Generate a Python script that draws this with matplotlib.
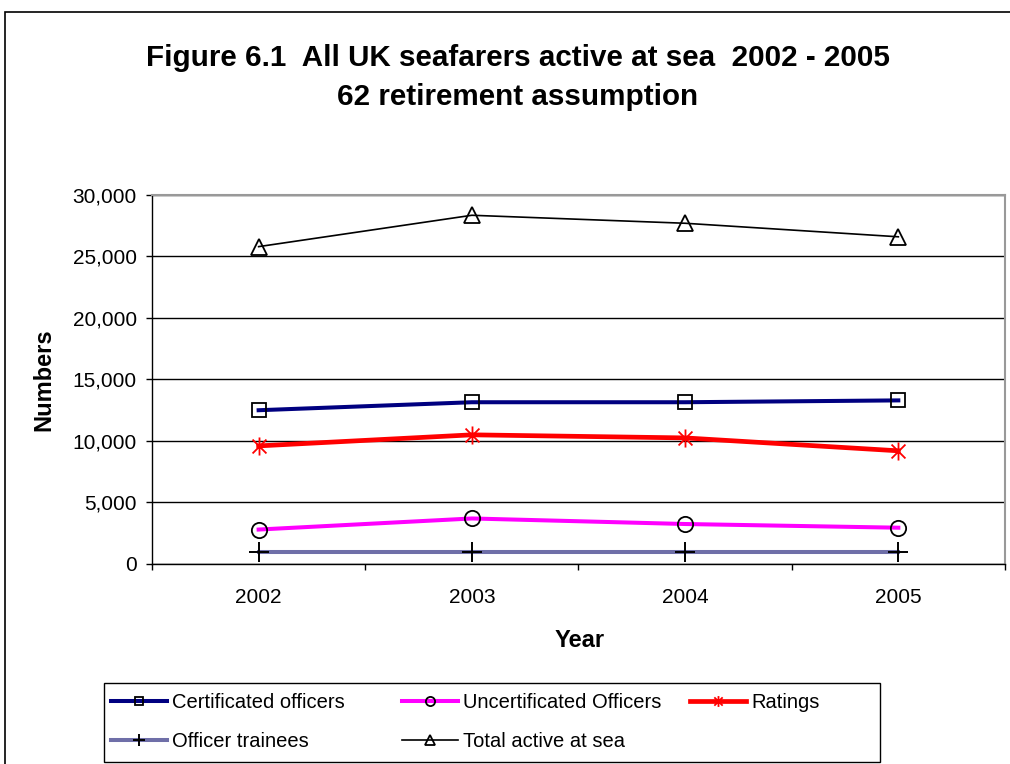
import numpy as np
import matplotlib.pyplot as plt
from matplotlib.path import Path
from matplotlib.patches import Rectangle
from matplotlib.ticker import FuncFormatter

plt.rcParams["font.family"] = ["Liberation Sans", "DejaVu Sans"]

years = ["2002", "2003", "2004", "2005"]
certificated = [12500, 13150, 13150, 13300]
uncertificated = [2800, 3700, 3250, 2950]
ratings = [9600, 10500, 10250, 9200]
trainees = [1000, 1000, 1000, 1000]
total = [25800, 28350, 27700, 26600]

# excel style asterisk marker (x with a vertical bar)
star = Path(
    [(-1, -1), (1, 1), (-1, 1), (1, -1), (0, -1.3), (0, 1.3)],
    [Path.MOVETO, Path.LINETO, Path.MOVETO, Path.LINETO, Path.MOVETO, Path.LINETO],
)

fig = plt.figure(figsize=(10.1, 7.64), dpi=100)
ax = fig.add_axes([0.1505, 0.2618, 0.8445, 0.483])

x = np.arange(len(years))

l1, = ax.plot(x, certificated, color="#000080", linewidth=2.9, marker="s",
              markersize=10.5, markerfacecolor="none", markeredgecolor="black",
              markeredgewidth=1.3, label="Certificated officers", zorder=4)
l2, = ax.plot(x, uncertificated, color="#ff00ff", linewidth=2.9, marker="o",
              markersize=11, markerfacecolor="none", markeredgecolor="black",
              markeredgewidth=1.3, label="Uncertificated Officers", zorder=4)
l3, = ax.plot(x, ratings, color="#ff0000", linewidth=3.4, marker=star,
              markersize=13, markerfacecolor="none", markeredgecolor="#ff0000",
              markeredgewidth=1.3, label="Ratings", zorder=4)
l4, = ax.plot(x, trainees, color="#6f6fa8", linewidth=2.9, marker="+",
              markersize=14, markeredgecolor="black", markeredgewidth=1.4,
              label="Officer trainees", zorder=4)
l5, = ax.plot(x, total, color="black", linewidth=1.2, marker="^",
              markersize=12, markerfacecolor="none", markeredgecolor="black",
              markeredgewidth=1.3, label="Total active at sea", zorder=4)

ax.set_xlim(-0.5, len(years) - 0.5)
ax.set_ylim(0, 30000)
ax.set_yticks(np.arange(0, 30001, 5000))
ax.yaxis.set_major_formatter(FuncFormatter(lambda v, p: f"{int(v):,}"))
ax.set_xticks(x)
ax.set_xticklabels(years)
ax.set_xticks(np.arange(-0.5, len(years)), minor=True)
ax.tick_params(axis="x", which="major", length=0, pad=17, labelsize=15)
ax.tick_params(axis="x", which="minor", length=4, width=1, direction="out")
ax.tick_params(axis="y", length=4, width=1, direction="out", pad=7, labelsize=15)

ax.grid(True, axis="y", color="black", linewidth=1)
for s in ["top", "right"]:
    ax.spines[s].set_color("#999999")
    ax.spines[s].set_linewidth(1.5)
for s in ["left", "bottom"]:
    ax.spines[s].set_color("black")
    ax.spines[s].set_linewidth(1)

fig.text(0.574, 0.1531, "Year", ha="center", va="baseline",
         fontsize=17, fontweight="bold")
fig.text(0.0436, 0.5026, "Numbers", rotation=90, ha="center", va="center",
         fontsize=17, fontweight="bold")

fig.text(0.5124, 0.9136, "Figure 6.1  All UK seafarers active at sea  2002 - 2005",
         ha="center", va="baseline", fontsize=21.3, fontweight="bold")
fig.text(0.5124, 0.8626, "62 retirement assumption",
         ha="center", va="baseline", fontsize=21.3, fontweight="bold")

# legend: one column at a time, inside a plain box
columns = [[l1, l4], [l2, l5], [l3]]
col_x = [0.1099, 0.398, 0.683]
for handles, cx in zip(columns, col_x):
    fig.legend(handles, [h.get_label() for h in handles], loc="upper left",
               bbox_to_anchor=(cx, 0.0929), frameon=False, fontsize=14.5,
               handlelength=2.8, handletextpad=0.25, borderpad=0,
               borderaxespad=0, labelspacing=0.98, markerscale=0.6)
fig.patches.append(Rectangle((0.103, 0.0026), 0.768, 0.1034, transform=fig.transFigure,
                             fill=False, edgecolor="black", linewidth=1))

fig.patches.append(Rectangle((0.005, -0.1), 2, 1.084, transform=fig.transFigure,
                             fill=False, edgecolor="black", linewidth=1.2))

fig.savefig("out.png", dpi=100)
